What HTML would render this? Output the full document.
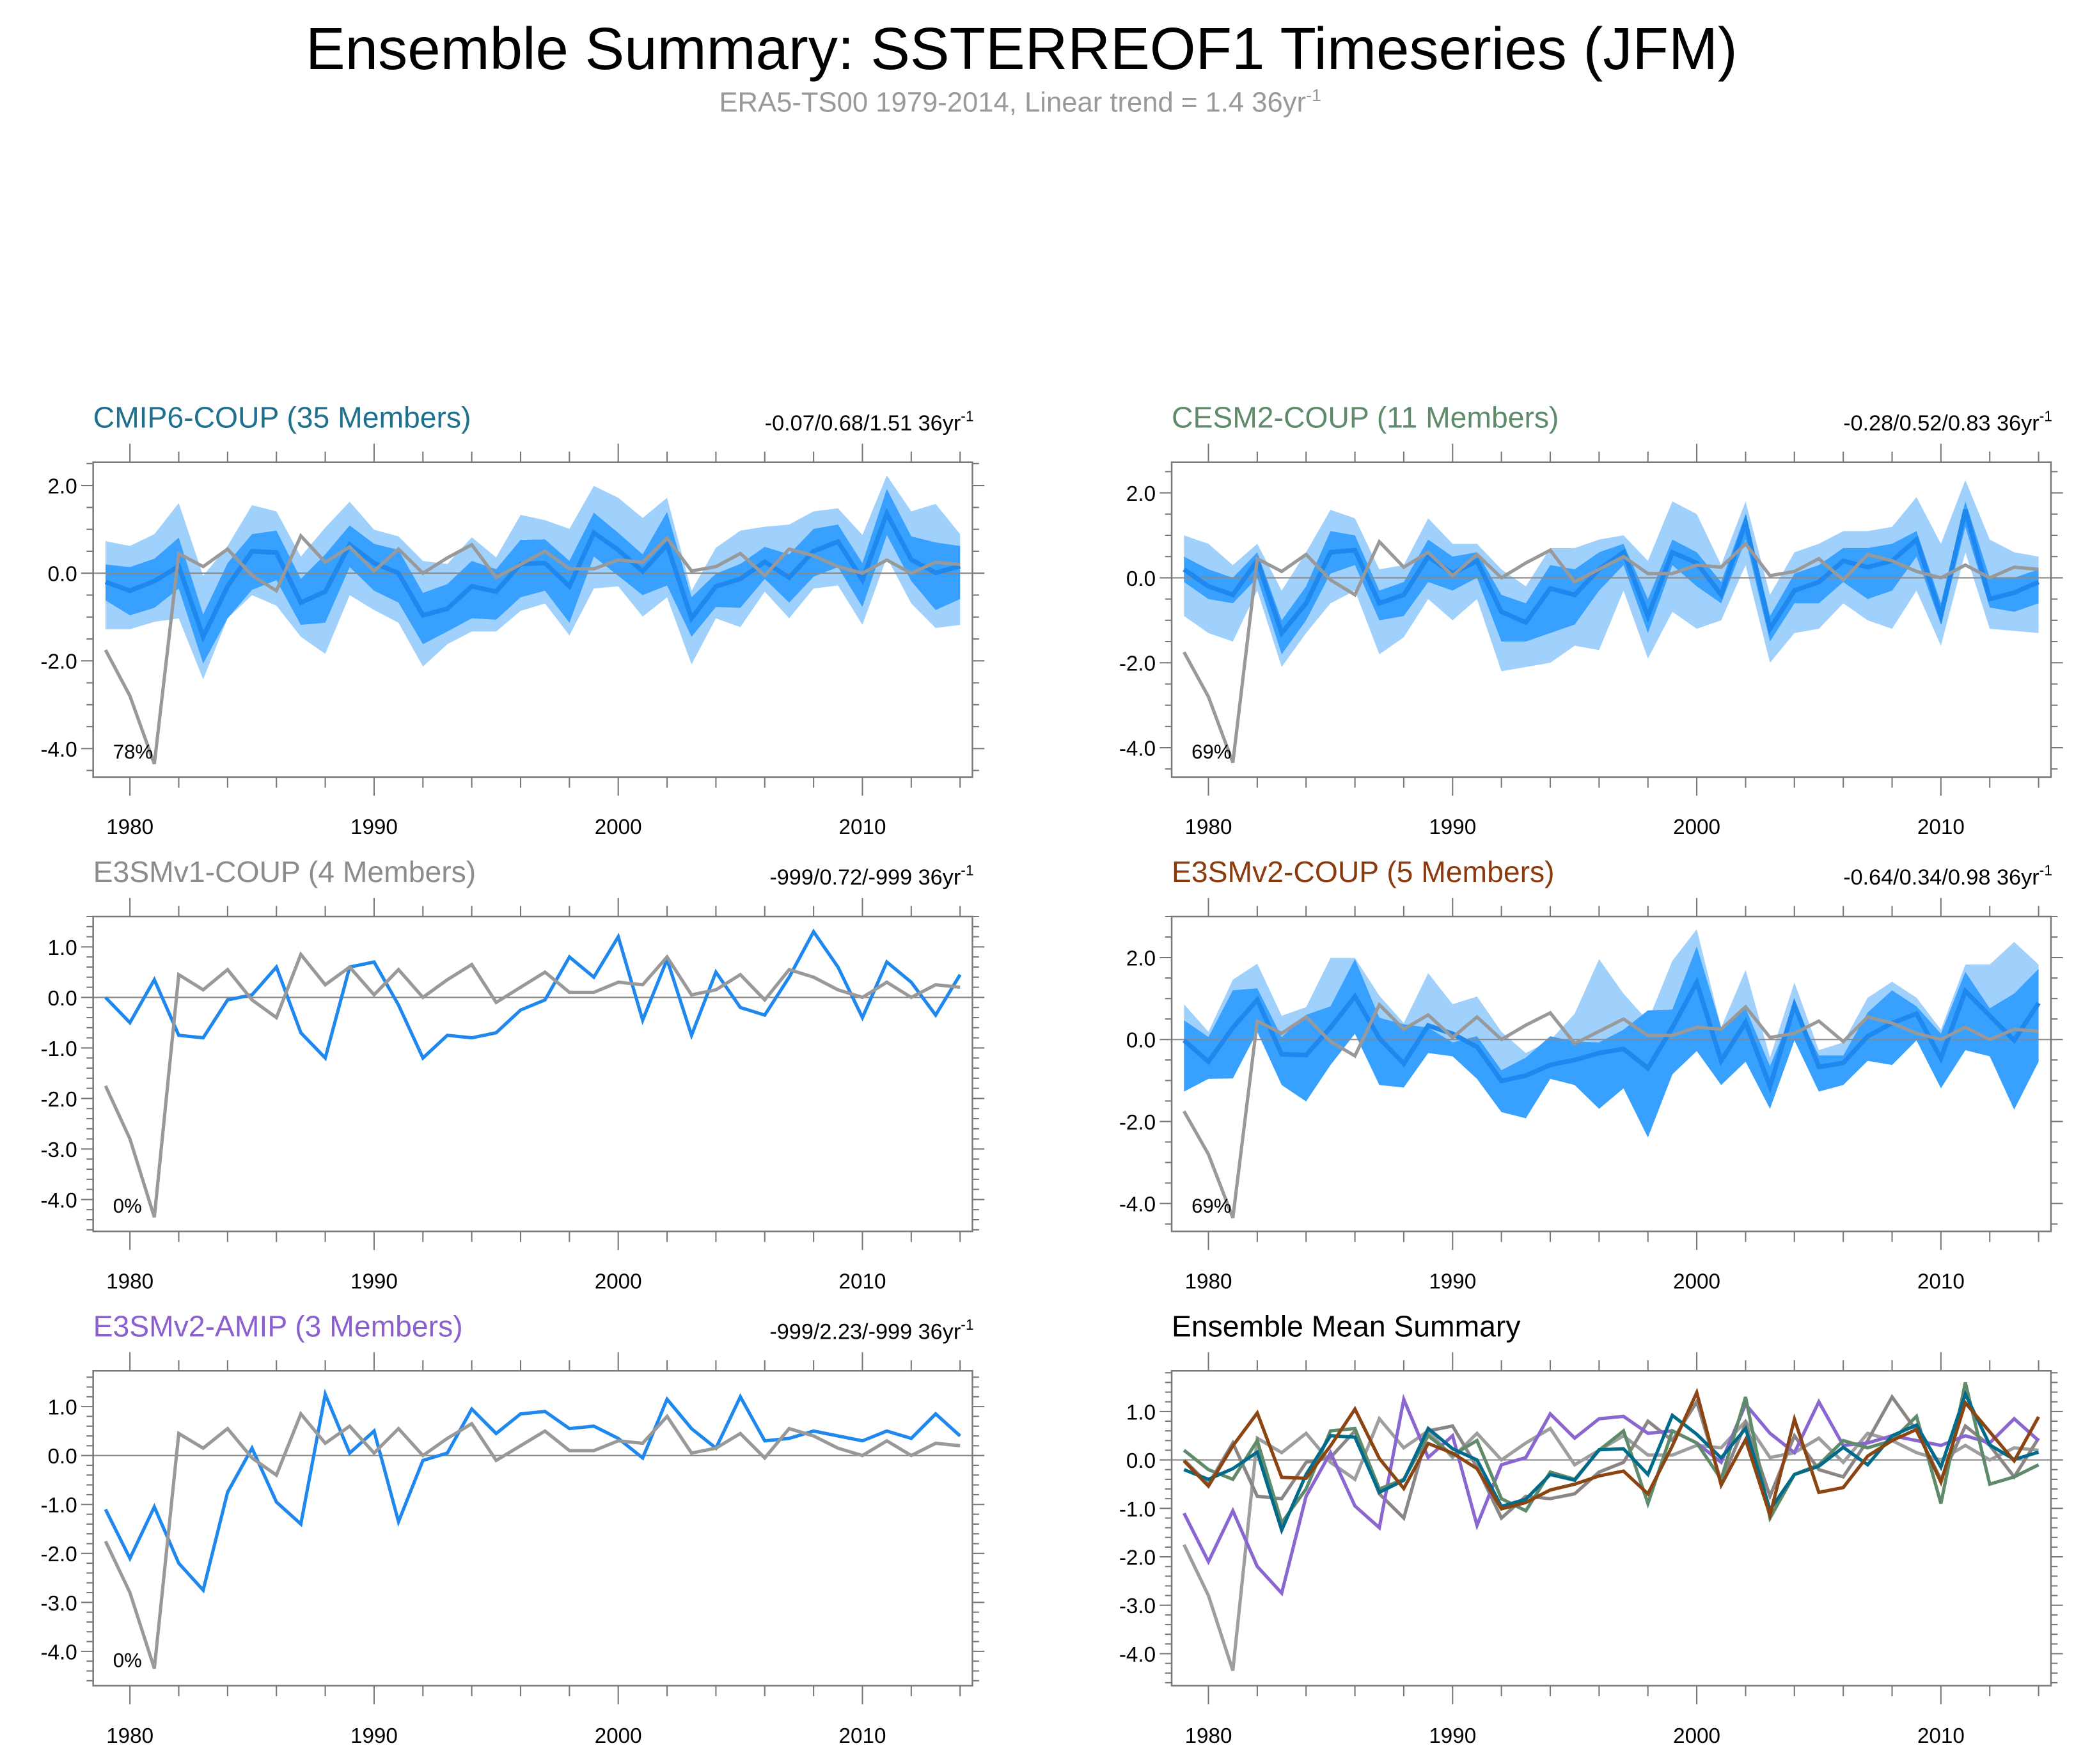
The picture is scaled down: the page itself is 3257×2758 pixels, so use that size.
<!DOCTYPE html>
<html><head><meta charset="utf-8"><title>Ensemble Summary</title>
<style>html,body{margin:0;padding:0;background:#fff}svg{display:block}text{font-family:"Liberation Sans",Arial,sans-serif}</style>
</head><body>
<svg id="chart" xmlns="http://www.w3.org/2000/svg" width="3257" height="2758" viewBox="0 0 1568 1328">
<rect x="0" y="0" width="1568" height="1328" fill="#fff"/>
<text x="769" y="52" font-size="44.5" text-anchor="middle" fill="#000">Ensemble Summary: SSTERREOF1 Timeseries (JFM)</text>
<text x="768" y="84" font-size="21" text-anchor="middle" fill="#999">ERA5-TS00 1979-2014, Linear trend = 1.4 36yr<tspan dy="-8" font-size="13">-1</tspan></text>
</svg>
<script>
const years = [1979,1980,1981,1982,1983,1984,1985,1986,1987,1988,1989,1990,1991,1992,1993,1994,1995,1996,1997,1998,1999,2000,2001,2002,2003,2004,2005,2006,2007,2008,2009,2010,2011,2012,2013,2014];
const obs = [-1.75,-2.8,-4.35,0.45,0.15,0.55,-0.05,-0.4,0.85,0.25,0.6,0.05,0.55,0.0,0.35,0.65,-0.1,0.2,0.5,0.1,0.1,0.3,0.25,0.8,0.05,0.15,0.45,-0.05,0.55,0.4,0.15,0.0,0.3,0.0,0.25,0.2];
const cmipMean = [-0.2,-0.4,-0.18,0.16,-1.45,-0.3,0.5,0.47,-0.67,-0.42,0.65,0.23,0.0,-0.96,-0.81,-0.3,-0.42,0.21,0.23,-0.3,0.92,0.53,0.04,0.65,-1.03,-0.3,-0.13,0.26,-0.1,0.5,0.72,-0.15,1.36,0.31,0.01,0.16];
const cmipDarkHi = [0.2,0.14,0.33,0.81,-0.94,0.23,0.89,0.97,-0.13,0.43,1.09,0.67,0.53,-0.45,-0.25,0.28,0.09,0.76,0.77,0.28,1.38,0.92,0.43,1.4,-0.55,-0.01,0.21,0.6,0.43,1.01,1.11,0.23,1.92,0.84,0.7,0.62];
const cmipDarkLo = [-0.62,-0.96,-0.79,-0.35,-2.06,-1.03,-0.38,-0.16,-1.18,-1.13,0.14,-0.4,-0.67,-1.62,-1.33,-1.03,-1.06,-0.55,-0.4,-1.13,0.38,-0.06,-0.5,-0.28,-1.45,-0.77,-0.79,-0.13,-0.67,-0.08,0.14,-0.77,0.87,-0.18,-0.84,-0.59];
const cmipLightHi = [0.73,0.62,0.89,1.6,-0.06,0.62,1.55,1.41,0.38,1.04,1.63,0.99,0.84,0.28,0.21,0.82,0.36,1.33,1.21,1.01,1.99,1.72,1.26,1.72,-0.4,0.58,0.97,1.06,1.11,1.41,1.48,0.87,2.23,1.41,1.58,0.89];
const cmipLightLo = [-1.28,-1.28,-1.11,-1.03,-2.42,-1.03,-0.5,-0.74,-1.45,-1.84,-0.5,-0.84,-1.13,-2.13,-1.62,-1.33,-1.33,-0.86,-0.69,-1.42,-0.35,-0.3,-0.99,-0.55,-2.08,-1.03,-1.23,-0.42,-1.03,-0.35,-0.28,-1.18,0.36,-0.69,-1.25,-1.18];
const cesmMean = [0.2,-0.2,-0.4,0.4,-1.3,-0.6,0.6,0.65,-0.6,-0.4,0.5,0.1,0.4,-0.8,-1.05,-0.25,-0.4,0.2,0.6,-0.9,0.6,0.35,-0.4,1.3,-1.2,-0.3,-0.1,0.4,0.25,0.4,0.9,-0.9,1.6,-0.5,-0.35,-0.1];
const cesmDarkHi = [0.5,0.2,0.0,0.6,-1.0,-0.2,1.1,1.0,-0.3,-0.1,0.9,0.5,0.6,-0.4,-0.6,0.3,0.2,0.6,0.8,-0.5,0.9,0.6,-0.1,1.5,-0.9,0.1,0.3,0.7,0.7,0.8,1.1,-0.6,1.8,0.0,0.0,0.2];
const cesmDarkLo = [-0.1,-0.5,-0.6,0.0,-1.8,-1.0,0.1,0.3,-1.0,-0.9,-0.1,-0.3,0.0,-1.5,-1.5,-1.3,-1.1,-0.3,0.3,-1.3,0.3,-0.2,-0.6,0.9,-1.5,-0.6,-0.6,-0.1,-0.5,-0.3,0.5,-1.1,1.2,-0.7,-0.8,-0.6];
const cesmLightHi = [1.0,0.8,0.3,0.8,-0.3,0.6,1.6,1.4,0.2,0.3,1.4,0.8,0.8,0.2,-0.2,0.7,0.7,0.9,1.0,0.4,1.8,1.5,0.3,1.8,-0.4,0.6,0.8,1.1,1.1,1.2,1.9,0.8,2.3,0.9,0.6,0.5];
const cesmLightLo = [-0.9,-1.3,-1.5,-0.3,-2.1,-1.3,-0.6,-0.3,-1.8,-1.4,-0.5,-1.0,-0.5,-2.2,-2.1,-2.0,-1.6,-1.7,-0.3,-1.9,-0.8,-1.2,-1.0,0.3,-2.0,-1.3,-1.2,-0.6,-1.0,-1.2,-0.3,-1.6,0.6,-1.2,-1.25,-1.3];
const v1Mean = [0.0,-0.5,0.35,-0.75,-0.8,-0.05,0.05,0.6,-0.7,-1.2,0.6,0.7,-0.15,-1.2,-0.75,-0.8,-0.7,-0.25,-0.05,0.8,0.4,1.2,-0.45,0.75,-0.75,0.5,-0.2,-0.35,0.4,1.3,0.6,-0.4,0.7,0.3,-0.35,0.45];
const v2Mean = [-0.02,-0.54,0.29,0.97,-0.36,-0.38,0.29,1.05,0.03,-0.59,0.34,0.14,-0.18,-1.01,-0.88,-0.62,-0.5,-0.33,-0.23,-0.7,0.29,1.39,-0.52,0.42,-1.14,0.84,-0.67,-0.57,0.08,0.4,0.63,-0.46,1.18,0.58,-0.02,0.89];
const v2DarkHi = [0.47,0.06,1.2,1.25,0.06,0.6,0.81,1.96,0.53,0.37,0.29,-0.07,0.08,-0.75,-0.44,0.08,-0.05,-0.07,0.24,0.71,0.73,2.27,0.29,0.76,-0.65,0.81,-0.39,-0.39,0.66,1.2,0.81,0.14,1.65,0.76,1.12,1.72];
const v2DarkLo = [-1.27,-0.96,-0.95,0.19,-1.11,-1.51,-0.62,0.14,-1.11,-1.17,-0.33,-0.41,-0.96,-1.77,-1.92,-0.96,-1.11,-1.69,-1.19,-2.39,-0.85,-0.28,-1.11,-0.54,-1.69,-0.02,-1.27,-1.11,-0.52,-0.62,-0.02,-1.19,-0.26,-0.41,-1.71,-0.54];
const v2LightHi = [0.86,0.19,1.46,1.85,0.58,0.79,1.99,1.99,1.07,0.4,1.62,0.86,1.05,0.19,-0.33,-0.02,0.63,1.96,1.12,0.45,1.92,2.69,0.29,1.7,-0.44,1.39,-0.26,-0.07,1.02,1.41,1.02,0.24,1.83,1.83,2.38,1.83];
const v2LightLo = [-1.27,-0.96,-0.95,0.19,-1.11,-1.51,-0.62,0.14,-1.11,-1.17,-0.33,-0.41,-0.96,-1.77,-1.92,-0.96,-1.11,-1.69,-1.19,-2.39,-0.85,-0.28,-1.11,-0.54,-1.69,-0.02,-1.27,-1.11,-0.52,-0.62,-0.02,-1.19,-0.26,-0.41,-1.71,-0.54];
const amipMean = [-1.1,-2.1,-1.05,-2.2,-2.75,-0.75,0.15,-0.95,-1.4,1.25,0.05,0.5,-1.35,-0.1,0.05,0.95,0.45,0.85,0.9,0.55,0.6,0.35,-0.05,1.15,0.55,0.15,1.2,0.3,0.35,0.5,0.4,0.3,0.5,0.35,0.85,0.4];
const xTickLabels = ["1980","1990","2000","2010"];
const yTicksBig = [2,0,-2,-4];
const yTicksSmall = [1,0,-1,-2,-3,-4];

const NS = "http://www.w3.org/2000/svg";
const svg = document.getElementById("chart");
function mk(tag, attrs, parent){ const e=document.createElementNS(NS,tag); for(const k in attrs) e.setAttribute(k,attrs[k]); (parent||svg).appendChild(e); return e; }

const panels = [
 {key:"cmip6", x:70, y:348, ymin:-4.65, ymax:2.53, ticks:yTicksBig, minor:0.5, title:"CMIP6-COUP (35 Members)", tcolor:"#1f6f8f", stats:"-0.07/0.68/1.51 36yr", pct:"78%",
  mean:cmipMean, dh:cmipDarkHi, dl:cmipDarkLo, lh:cmipLightHi, ll:cmipLightLo},
 {key:"cesm2", x:882, y:348, ymin:-4.69, ymax:2.72, ticks:yTicksBig, minor:0.5, title:"CESM2-COUP (11 Members)", tcolor:"#5f8b6a", stats:"-0.28/0.52/0.83 36yr", pct:"69%",
  mean:cesmMean, dh:cesmDarkHi, dl:cesmDarkLo, lh:cesmLightHi, ll:cesmLightLo},
 {key:"e3smv1", x:70, y:690, ymin:-4.63, ymax:1.6, ticks:yTicksSmall, minor:0.2, title:"E3SMv1-COUP (4 Members)", tcolor:"#8c8c8c", stats:"-999/0.72/-999 36yr", pct:"0%",
  mean:v1Mean},
 {key:"e3smv2", x:882, y:690, ymin:-4.68, ymax:3.0, ticks:yTicksBig, minor:0.5, title:"E3SMv2-COUP (5 Members)", tcolor:"#8b3a0e", stats:"-0.64/0.34/0.98 36yr", pct:"69%",
  mean:v2Mean, dh:v2DarkHi, dl:v2DarkLo, lh:v2LightHi, ll:v2LightLo},
 {key:"amip", x:70, y:1032, ymin:-4.70, ymax:1.73, ticks:yTicksSmall, minor:0.2, title:"E3SMv2-AMIP (3 Members)", tcolor:"#8a5fd0", stats:"-999/2.23/-999 36yr", pct:"0%",
  mean:amipMean},
 {key:"summary", x:882, y:1032, ymin:-4.66, ymax:1.84, ticks:yTicksSmall, minor:0.2, title:"Ensemble Mean Summary", tcolor:"#000", summary:true}
];
const W=662, H=237, PAD=9.3;

panels.forEach(p=>{
  const g = mk("g",{});
  
  
  const X = yr => p.x + PAD + (yr-1979)*(W-2*PAD)/35;
  const Y = v => p.y + (p.ymax - v)/(p.ymax-p.ymin)*H;
  const t = mk("text",{x:p.x, y:p.y-26, "font-size":22.3, fill:p.tcolor}, g);
  t.textContent = p.title;
  
  
  if(p.stats){
    const s = mk("text",{x:p.x+W+1, y:p.y-24, "font-size":16.5, "text-anchor":"end", fill:"#000"}, g);
    s.textContent = p.stats;
    const sup = mk("tspan",{dy:-7,"font-size":11}, s); sup.textContent="-1";
    
    
  }
  const cid="clip-"+p.key;
  const cp = mk("clipPath",{id:cid}, g); mk("rect",{x:p.x,y:p.y,width:W,height:H},cp);
  const plot = mk("g",{"clip-path":"url(#"+cid+")"}, g);
  const band=(hi,lo,fill,name)=>{
    let d="M"+years.map((yr,i)=>X(yr)+","+Y(hi[i])).join("L");
    for(let i=years.length-1;i>=0;i--) d+="L"+X(years[i])+","+Y(lo[i]);
    const e=mk("path",{d:d+"Z",fill:fill},plot);
    
    
  };
  const line=(vals,color,w,name)=>{
    const e=mk("polyline",{points:years.map((yr,i)=>X(yr)+","+Y(vals[i])).join(" "),fill:"none",stroke:color,"stroke-width":w,"stroke-linejoin":"miter"},plot);
    
    
  };
  if(p.lh) band(p.lh,p.ll,"#a0d0fc",p.key+"-outer-range-band");
  if(p.dh) band(p.dh,p.dl,"#38a0fe",p.key+"-inner-range-band");
  const zl = mk("line",{x1:p.x,x2:p.x+W,y1:Y(0),y2:Y(0),stroke:"#888","stroke-width":1},plot);
  
  
  if(p.summary){
    line(obs,"#9e9e9e",2.5,"summary-obs-line");
    line(v1Mean,"#8c8585",2.5,"summary-e3smv1-line");
    line(amipMean,"#8a66d0",2.5,"summary-amip-line");
    line(cesmMean,"#5f8b6a",2.5,"summary-cesm2-line");
    line(cmipMean,"#006b8a",2.5,"summary-cmip6-line");
    line(v2Mean,"#8b4513",2.5,"summary-e3smv2-line");
  } else {
    line(p.mean,"#1e88ee",p.dh?3.5:2.5,p.key+"-ensemble-mean-line");
    line(obs,"#999",2.5,p.key+"-obs-line");
  }
  const fr = mk("rect",{x:p.x,y:p.y,width:W,height:H,fill:"none",stroke:"#777","stroke-width":1.2},g);
  
  
  for(let v=Math.ceil(p.ymin/p.minor)*p.minor; v<=p.ymax+1e-9; v+=p.minor){
    const yy=Y(v); const major = p.ticks.some(t=>Math.abs(t-v)<1e-6);
    const L = major?9:5;
    mk("line",{x1:p.x-L,x2:p.x,y1:yy,y2:yy,stroke:"#777","stroke-width":1},g);
    mk("line",{x1:p.x+W,x2:p.x+W+L,y1:yy,y2:yy,stroke:"#777","stroke-width":1},g);
  }
  p.ticks.forEach(v=>{
    const e=mk("text",{x:p.x-12,y:Y(v)+6,"font-size":16,"text-anchor":"end",fill:"#000"},g);
    e.textContent=v.toFixed(1);
    
    
  });
  for(let yr=1980; yr<=2014; yr+=2){
    const major = yr%10===0; const L = major?14:8; const xx=X(yr);
    mk("line",{x1:xx,x2:xx,y1:p.y+H,y2:p.y+H+L,stroke:"#777","stroke-width":1},g);
    mk("line",{x1:xx,x2:xx,y1:p.y-L,y2:p.y,stroke:"#777","stroke-width":1},g);
  }
  xTickLabels.forEach(lbl=>{
    const e=mk("text",{x:X(+lbl),y:p.y+H+43,"font-size":16,"text-anchor":"middle",fill:"#000"},g);
    e.textContent=lbl;
    
    
  });
  if(p.pct){
    const e=mk("text",{x:p.x+15,y:p.y+H-14,"font-size":15,fill:"#000"},g);
    e.textContent=p.pct;
    
    
  }
});
</script>
</body></html>
